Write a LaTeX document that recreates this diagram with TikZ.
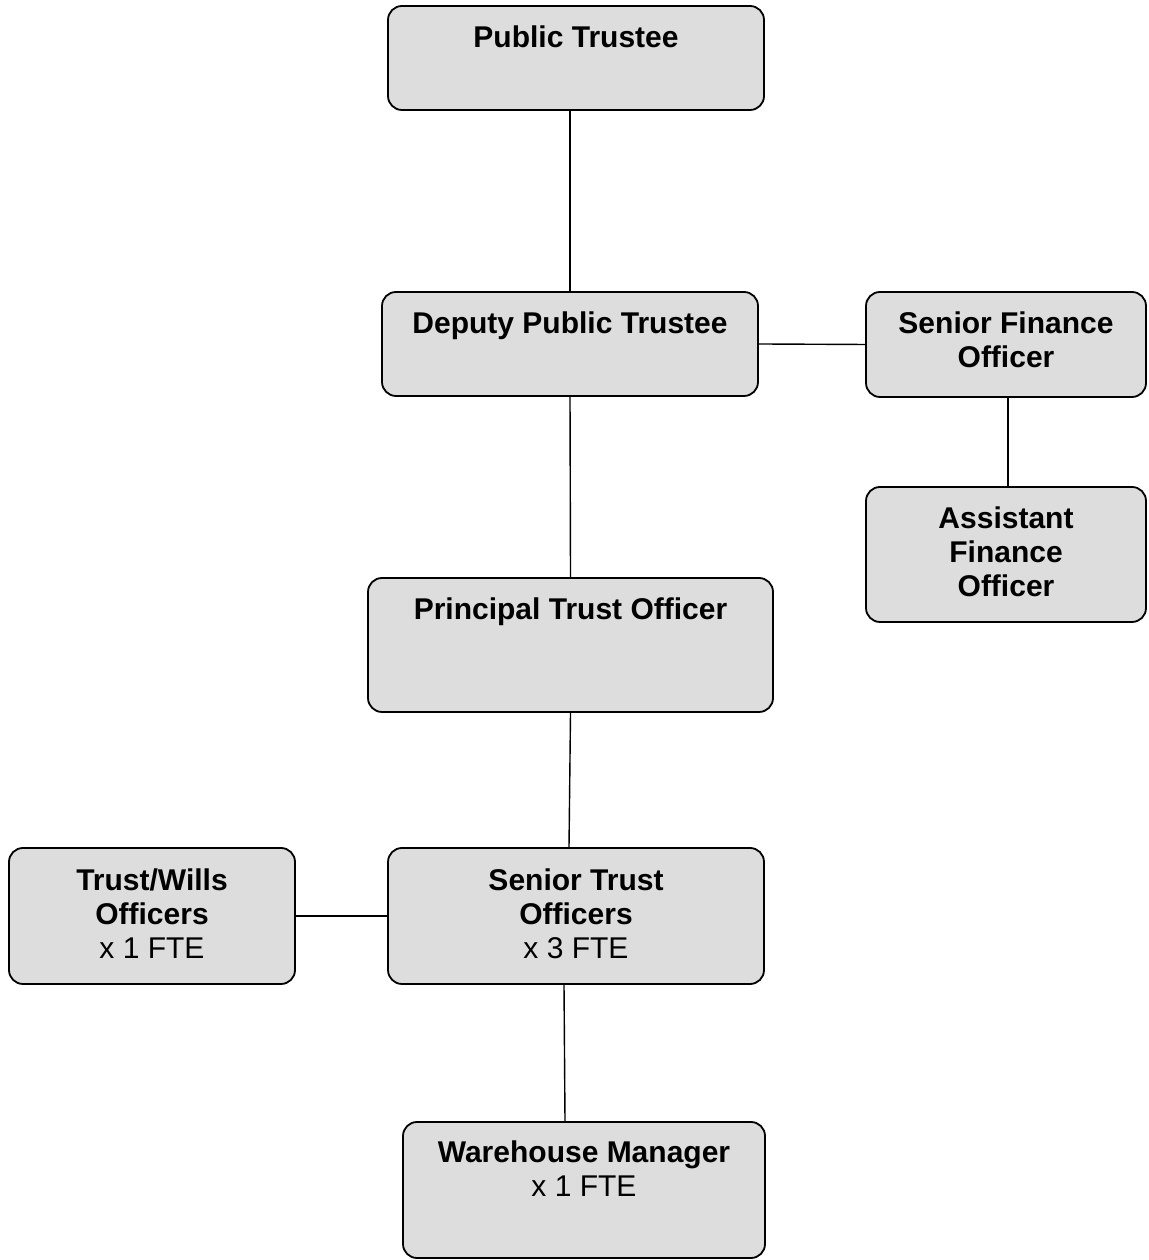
\documentclass[tikz,border=0pt]{standalone}
\usepackage{fontspec}
\setmainfont{Liberation Sans}
\begin{document}
\begin{tikzpicture}[x=1pt,y=1pt,
  box/.style={draw=black, line width=1.8pt, fill={rgb,255:red,221;green,221;blue,221}, rounded corners=14pt, inner sep=0pt},
  txt/.style={anchor=north, align=center, inner sep=0pt, font=\fontsize{30}{34}\selectfont},
  link/.style={draw=black, line width=1.4pt}]
\useasboundingbox (0,0) rectangle (1148,1260);
\fill[white] (0,0) rectangle (1148,1260);
% boxes
\node[box, minimum width=376pt, minimum height=104pt] (pt)  at (576,1202) {};
\node[box, minimum width=376pt, minimum height=104pt] (dpt) at (570,916) {};
\node[box, minimum width=280pt, minimum height=105pt] (sfo) at (1006,915.5) {};
\node[box, minimum width=280pt, minimum height=135pt] (afo) at (1006,705.5) {};
\node[box, minimum width=405pt, minimum height=134pt] (pto) at (570.5,615) {};
\node[box, minimum width=286pt, minimum height=136pt] (two) at (152,344) {};
\node[box, minimum width=376pt, minimum height=136pt] (sto) at (576,344) {};
\node[box, minimum width=362pt, minimum height=136pt] (wm)  at (584,70) {};
% texts
\node[txt] (ptt)  at ([yshift=-20pt]pt.north)  {\bfseries Public Trustee};
\node[txt] (dptt) at ([yshift=-20pt]dpt.north) {\bfseries Deputy Public Trustee};
\node[txt] (sfot) at ([yshift=-20pt]sfo.north) {\bfseries Senior Finance\\\bfseries Officer};
\node[txt] (afot) at ([yshift=-20pt]afo.north) {\bfseries Assistant\\\bfseries Finance\\\bfseries Officer};
\node[txt] (ptot) at ([yshift=-20pt]pto.north) {\bfseries Principal Trust Officer};
\node[txt] (twot) at ([yshift=-21pt]two.north) {\bfseries Trust/Wills\\\bfseries Officers\\x 1 FTE};
\node[txt] (stot) at ([yshift=-21pt]sto.north) {\bfseries Senior Trust\\\bfseries Officers\\x 3 FTE};
\node[txt] (wmt)  at ([yshift=-19pt]wm.north)  {\bfseries Warehouse Manager\\x 1 FTE};
% connectors
\draw[link] ([xshift=-6pt]pt.south) -- (dpt.north);
\draw[link] (dpt.east) -- (sfo.west);
\draw[link] ([xshift=2pt]sfo.south) -- ([xshift=2pt]afo.north);
\draw[link] (dpt.south) -- (pto.north);
\draw[link] (pto.south) -- ([xshift=-7pt]sto.north);
\draw[link] (two.east) -- (sto.west);
\draw[link] ([xshift=-12pt]sto.south) -- ([xshift=-19pt]wm.north);
\end{tikzpicture}
\end{document}
